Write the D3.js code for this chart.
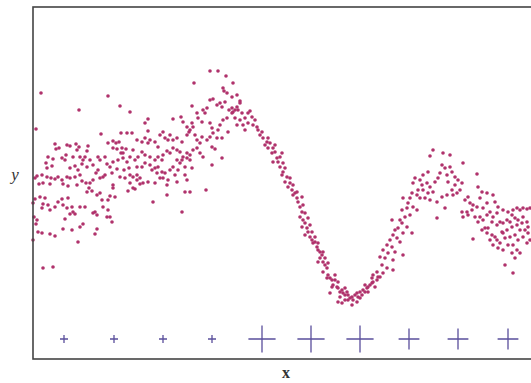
<!DOCTYPE html>
<html>
<head>
<meta charset="utf-8">
<script src="https://cdn.jsdelivr.net/npm/d3@7"></script>
<style>
  body { margin: 0; background: #fff; }
  svg { display: block; }
</style>
</head>
<body>
<div id="chart"></div>
<script>

// sample cloud, [x, y] in measurement units
// left noisy ramp
var rampPoints = [
  [8,266],[75,263],[46,249],[87,253],[97,247],[3,230],[161,276],[177,288],[185,288],[193,283],
  [200,276],[190,271],[191,268],[68,225],[88,226],[94,226],[115,240],[112,236],[115,228],[140,240],
  [148,242],[150,237],[159,253],[164,246],[170,249],[172,246],[177,259],[180,260],[187,256],[192,257],
  [196,249],[199,246],[202,249],[204,252],[154,232],[156,227],[159,236],[165,241],[169,237],[174,251],
  [177,236],[179,231],[184,254],[185,229],[187,234],[189,252],[190,239],[194,241],[199,251],[200,247],
  [202,241],[204,234],[205,249],[207,256],[194,266],[199,262],[204,264],[195,227],[189,221],
  [22,215],[26,211],[23,210],[34,214],[37,213],[43,215],[46,212],[44,209],[55,213],[54,208],
  [75,216],[80,218],[83,216],[86,217],[80,211],[84,210],[89,211],[93,210],[88,206],[90,206],
  [15,202],[20,200],[13,196],[14,191],[19,193],[29,201],[32,199],[33,204],[40,202],[47,202],
  [50,199],[49,195],[42,193],[37,191],[45,189],[54,192],[52,202],[57,199],[65,202],[67,199],
  [72,202],[74,195],[80,197],[85,199],[90,201],[94,197],[97,202],[96,191],[91,189],[84,190],
  [77,192],[65,189],[60,194],
  [2,181],[4,183],[9,184],[14,182],[18,181],[22,180],[25,182],[29,179],[34,182],[37,181],
  [42,182],[47,184],[49,178],[53,176],[57,176],[60,179],[63,186],[67,181],[70,182],[72,184],
  [44,174],[35,173],[30,175],[10,176],[6,175],[17,175],[79,186],[80,174],[87,182],[92,181],
  [97,184],[100,182],[97,176],[104,179],[107,175],[100,171],[95,168],[102,170],
  [0,156],[2,160],[7,162],[12,161],[10,155],[15,154],[9,151],[17,149],[22,152],[25,157],
  [29,160],[30,154],[35,161],[39,152],[40,147],[34,151],[47,152],[52,152],[54,167],[56,171],
  [59,168],[64,164],[67,166],[69,159],[75,159],[77,163],[82,162],[80,171],[70,152],[62,147],
  [64,144],[60,146],[75,149],[77,142],[79,137],[74,142],
  [1,142],[4,139],[3,135],[0,119],[5,127],[9,126],[17,125],[22,123],[30,130],[39,129],
  [47,132],[50,135],[45,117],[64,130],[62,125],[32,140],[37,145],[42,145],[10,91],[20,92],
  [99,226],[104,219],[109,217],[112,221],[115,216],[117,219],[122,217],[125,212],[127,224],[130,227],
  [132,221],[135,219],[137,224],[140,219],[144,221],[149,217],[154,224],[157,229],[160,232],[162,224],
  [164,219],[167,216],[169,222],[174,219],[179,212],[177,222],[180,226],[184,221],[182,210],[189,201],
  [179,194],[170,202],[167,206],[164,211],[160,209],[157,204],[154,206],[150,202],[147,207],[144,209],
  [140,211],[137,206],[134,208],[130,204],[129,199],[125,202],[122,199],[117,202],[112,204],[109,207],
  [105,202],[102,199],[100,209],[104,192],[109,192],[112,196],[117,194],[119,189],[122,191],[125,192],
  [129,187],[132,186],[130,181],[127,181],[124,186],[137,189],[140,192],[144,199],[147,196],[149,199],
  [154,201],[157,199],[159,191],[152,192],[145,189],[142,184],[144,177],[135,179],[134,174],[152,184],
  [154,179],[122,176],[115,177],[110,176],[107,181],[104,184],[120,157],[134,164],[149,147],[152,167],
  [173,169],[157,167]
];

// steep fall into the trough
var dropPoints = [
  [207,258],[209,246],[207,239],[212,241],[215,246],[217,248],[219,242],[222,239],[220,234],[224,232],
  [215,236],[210,234],[212,229],[225,229],[227,224],[230,221],[234,217],[232,214],[237,216],[235,211],
  [240,211],[242,214],[239,206],[244,201],[247,202],[249,206],[245,197],[250,196],[247,192],[252,191],
  [249,184],[254,182],[252,177],[257,176],[255,172],[259,169],[262,166],[260,164],[264,161],[265,157],
  [267,152],[269,147],[267,142],[270,139],[272,136],[269,132],[274,131],[275,127],[272,124],[277,122],
  [279,119],[280,116],[282,117],[284,112],[285,109],[287,107],[289,104],[287,101],[290,97],[292,94],
  [294,91],[290,87],[295,84],[297,81],[299,79],[302,79],[300,74],[304,72],[305,71],[307,67],
  [309,69],[310,66],[312,64],[307,62],[314,67],[315,64],[317,61],[319,62],[320,59],[322,64],
  [324,66],[325,62],[327,67],[329,64],[330,69],[332,67],[334,71],[335,72],[337,74],[339,76],
  [340,77],[342,72],[344,79],[345,82],[305,57],[309,56],[319,54],[312,59],[297,66],[299,72],
  [340,84],[344,87],
  [229,227],[235,221],[242,207],[240,197],[250,187],[257,181],[260,174],[264,167],[269,162],[270,154],
  [272,146],[275,141],[277,134],[279,127],[282,122],[285,116],[290,107],[292,101],[295,96],[285,97],
  [294,81],[302,84],[305,77],[312,71],[315,59],[324,57],[327,61],[332,74],[339,81],[335,67]
];

// second hump and right tail
var humpPoints = [
  [400,209],[397,203],[410,206],[417,204],[430,196],[444,185],[409,194],[412,191],[417,192],[419,187],
  [414,184],[407,186],[405,181],[402,177],[395,187],[390,184],[387,179],[382,181],[380,176],[389,174],
  [394,176],[397,172],[400,167],[395,166],[390,169],[385,169],[384,164],[379,166],[377,161],[387,161],
  [392,161],[397,159],[404,157],[409,162],[414,164],[419,169],[422,174],[425,179],[429,176],[427,169],
  [424,166],[420,164],[412,151],[404,141],[422,182],[415,177],
  [370,161],[375,156],[374,151],[369,149],[380,152],[384,149],[377,144],[372,142],[367,139],[359,139],
  [369,136],[374,132],[365,131],[362,129],[370,126],[379,126],[360,124],[357,119],[364,121],[367,117],
  [354,114],[359,112],[350,109],[355,106],[362,107],[370,104],[347,102],[352,101],[360,99],[349,94],
  [354,91],[360,89],[350,86],[347,82],
  [432,159],[435,162],[437,156],[440,154],[445,172],[449,167],[447,161],[454,166],[460,164],[462,157],
  [454,156],[450,151],[444,152],[439,149],[434,147],[429,147],[430,142],[435,144],[442,142],[447,142],
  [445,137],[450,139],[454,144],[457,147],[460,142],[464,146],[465,152],[470,149],[475,147],[479,144],
  [480,149],[484,151],[487,149],[490,151],[494,150],[497,151],[490,142],[485,139],[482,141],[477,137],
  [474,139],[470,136],[467,137],[464,134],[459,137],[455,131],[452,131],[449,129],[454,126],[459,124],
  [462,122],[464,119],[469,127],[474,129],[479,132],[484,134],[489,136],[494,137],[495,132],[492,129],
  [487,129],[482,124],[477,122],[472,121],[467,116],[460,114],[457,119],[465,111],[470,109],[475,114],
  [480,114],[485,119],[490,122],[495,126],[484,109],[479,106],[487,106],[494,116],[497,119],[482,101],
  [472,94],[480,86],[440,120],[470,126]
];

// design points along the bottom and their weights
var crossX = [31, 81, 130, 179, 229, 278, 327, 376, 425, 475];
var crossY = [20, 20, 20, 20, 20, 20, 20, 20, 20, 20];
var crossWeight = [1, 1, 1, 1, 3.4, 3.4, 3.4, 2.6, 2.6, 2.6];

var xLabel = "x";
var yLabel = "y";

var width = 531, height = 383;
var margin = {left: 33, top: 7};
var plotW = 540, plotH = 352;

var svg = d3.select("#chart").append("svg")
    .attr("width", width)
    .attr("height", height);

var x = d3.scaleLinear().domain([0, 540]).range([margin.left, margin.left + plotW]);
var y = d3.scaleLinear().domain([0, 352]).range([margin.top + plotH, margin.top]);
var crossSize = d3.scaleLinear().domain([0, 1]).range([0, 8]);

var allPoints = rampPoints.concat(dropPoints, humpPoints);

svg.append("g")
  .selectAll("circle")
  .data(allPoints)
  .join("circle")
    .attr("cx", d => x(d[0]))
    .attr("cy", d => y(d[1]))
    .attr("r", 1.8)
    .style("fill", "#b0326c");

var crosses = svg.append("g")
  .selectAll("path")
  .data(crossX.map((v, i) => ({x: v, y: crossY[i], w: crossWeight[i]})))
  .join("path")
    .attr("d", function(d) {
      var cx = x(d.x), cy = y(d.y), h = crossSize(d.w) / 2;
      return "M" + (cx - h) + "," + cy + "H" + (cx + h) + "M" + cx + "," + (cy - h) + "V" + (cy + h);
    })
    .attr("stroke", "#5a4f9c")
    .attr("stroke-width", 1.3)
    .attr("fill", "none");

// frame (right side runs off the page)
svg.append("rect")
  .attr("x", x(0))
  .attr("y", y(352))
  .attr("width", x(540) - x(0))
  .attr("height", y(0) - y(352))
  .attr("fill", "none")
  .attr("stroke", "#444")
  .attr("stroke-width", 1.6);

svg.append("text")
  .attr("x", 15)
  .attr("y", 180)
  .attr("text-anchor", "middle")
  .style("font-family", "'Liberation Serif', 'DejaVu Serif', serif")
  .style("font-style", "italic")
  .style("font-size", "17px")
  .style("fill", "#333")
  .text(yLabel);

svg.append("text")
  .attr("x", 286)
  .attr("y", 378)
  .attr("text-anchor", "middle")
  .style("font-family", "'Liberation Serif', 'DejaVu Serif', serif")
  .style("font-weight", "bold")
  .style("font-size", "16px")
  .style("fill", "#333")
  .text(xLabel);

</script>
</body>
</html>
